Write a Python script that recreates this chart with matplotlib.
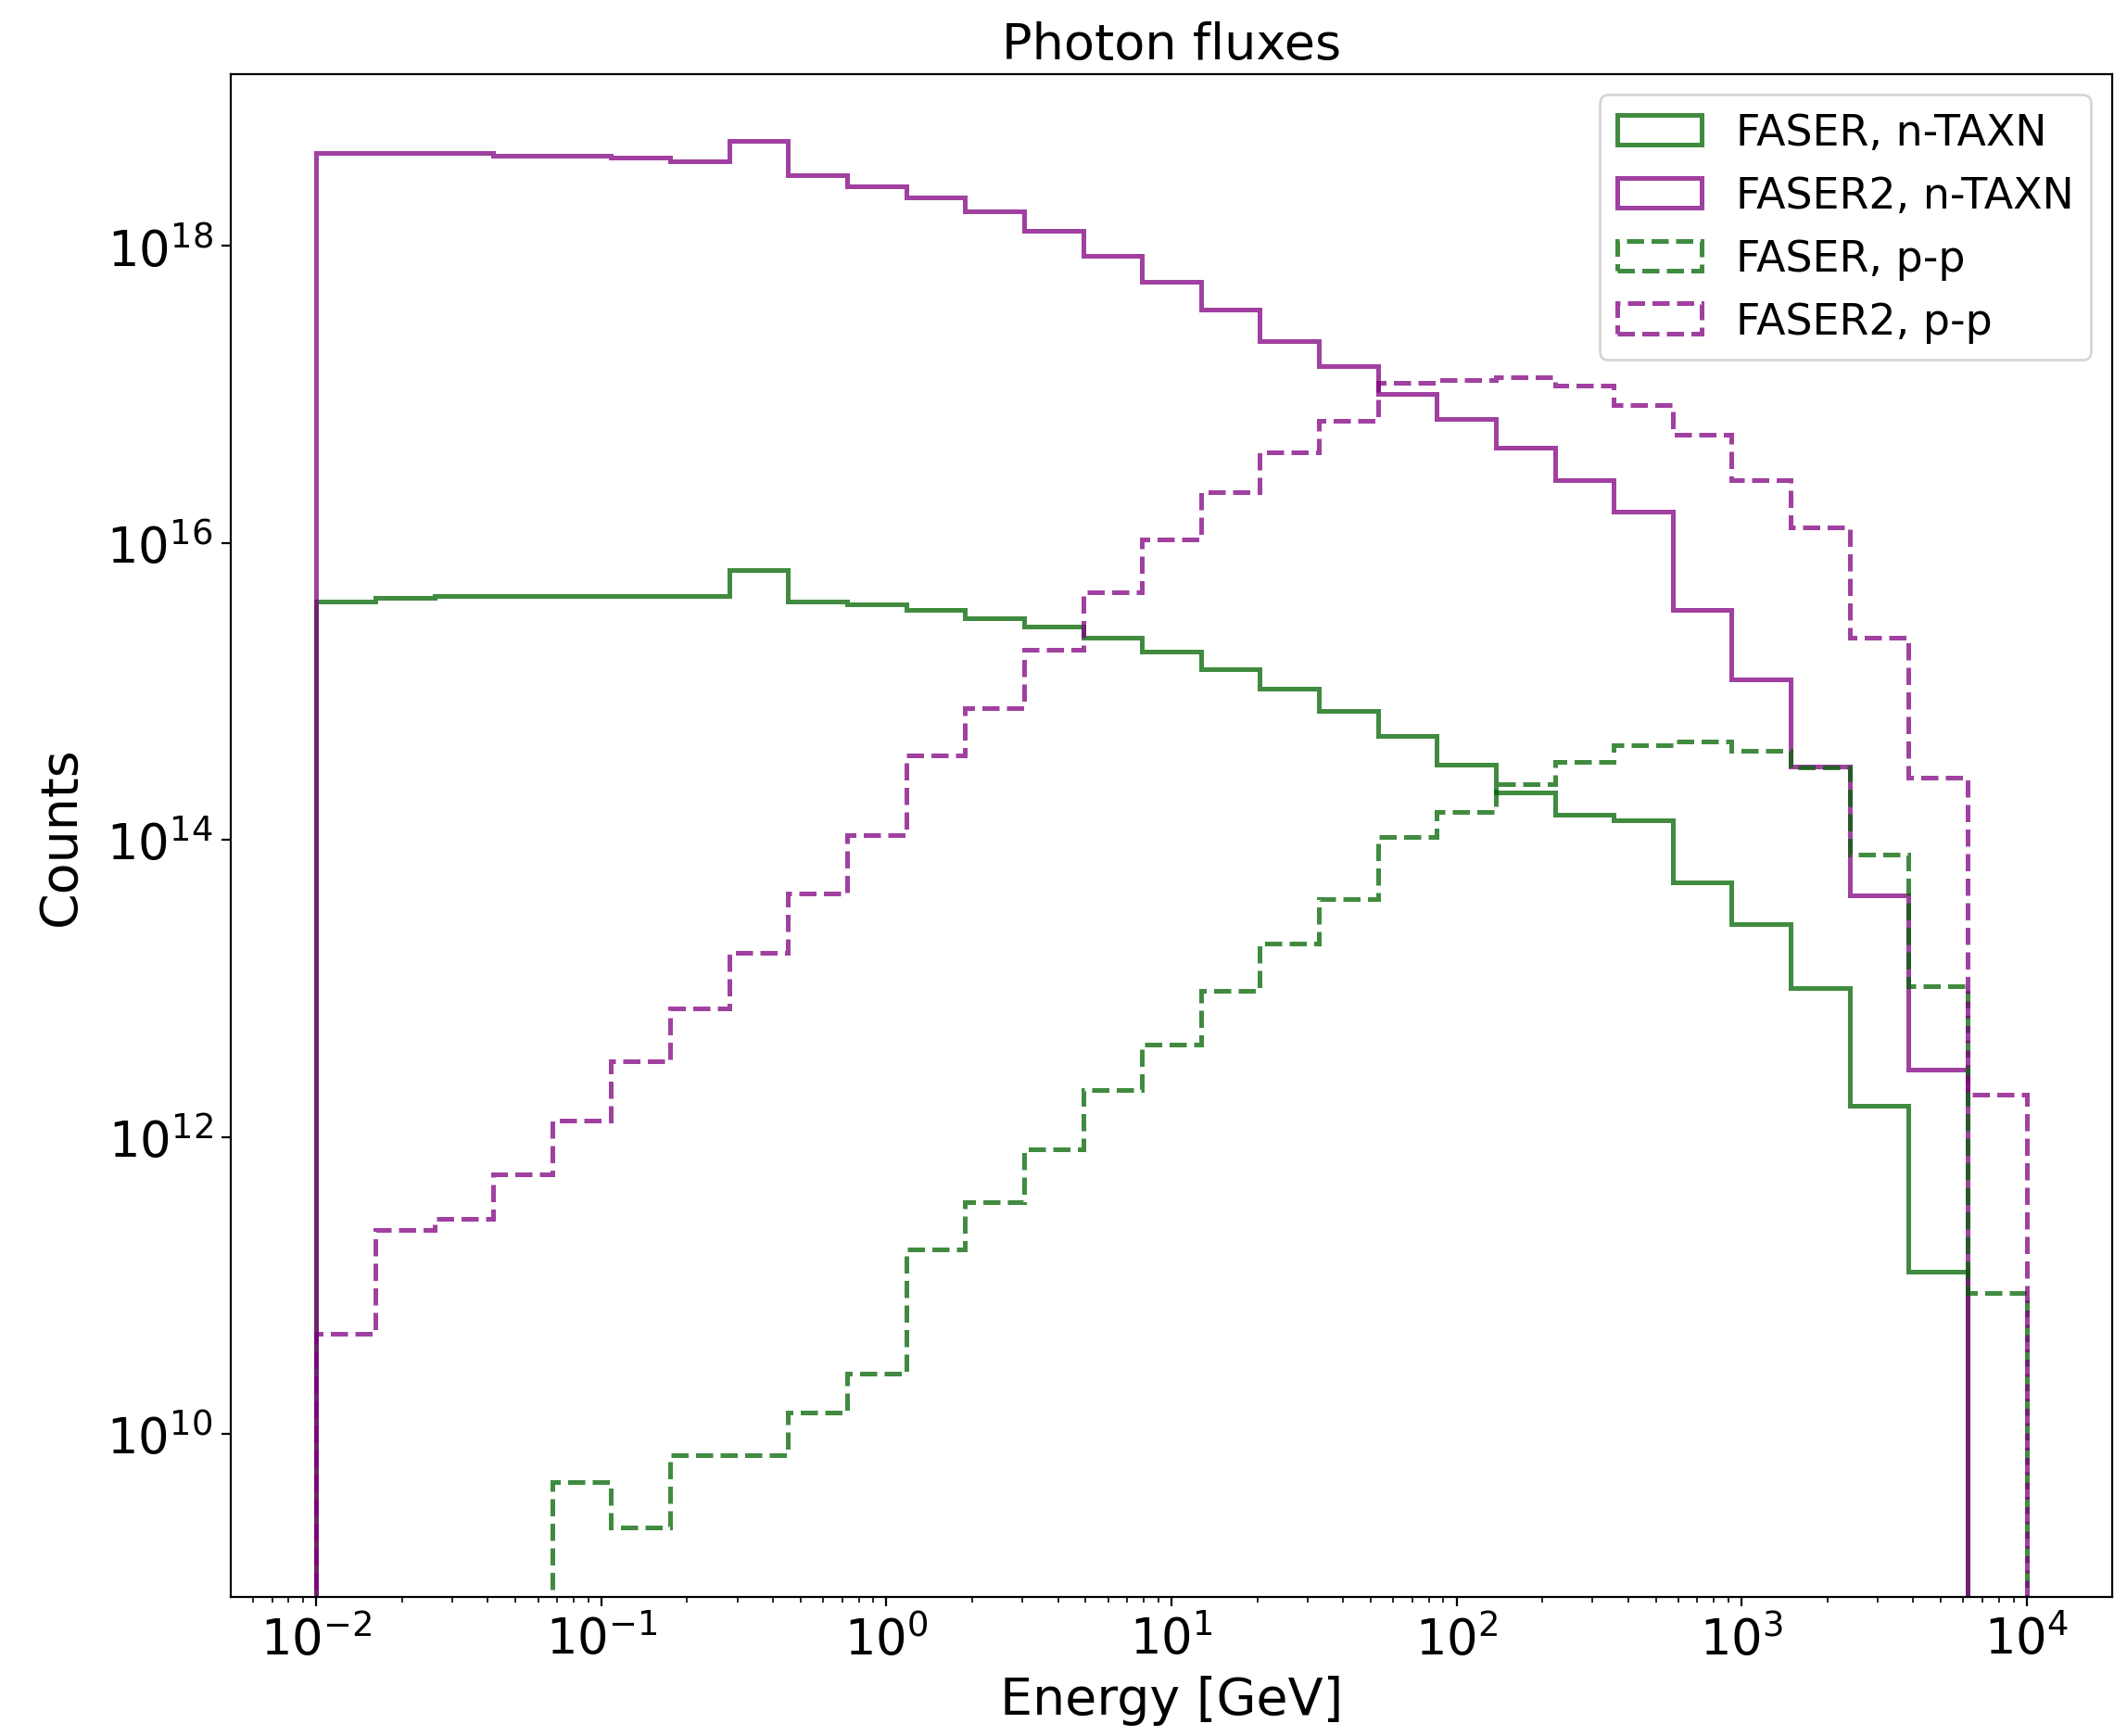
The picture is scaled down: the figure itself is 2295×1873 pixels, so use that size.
import numpy as np
import matplotlib
matplotlib.use('Agg')
import matplotlib.pyplot as plt
from matplotlib.ticker import NullLocator

# 29 log-spaced energy bins, 1e-2 .. 1e4 GeV
edges = np.logspace(-2, 4, 30)

labels = ['FASER, n-TAXN', 'FASER2, n-TAXN', 'FASER, p-p', 'FASER2, p-p']

faser_taxn = [4.05e15, 4.24e15, 4.42e15, 4.42e15, 4.42e15, 4.42e15, 4.42e15, 6.53e15,
              4.05e15, 3.86e15, 3.55e15, 3.11e15, 2.74e15, 2.29e15, 1.85e15, 1.41e15,
              1.05e15, 7.41e14, 4.98e14, 3.22e14, 2.08e14, 1.47e14, 1.36e14, 5.18e13,
              2.69e13, 1.00e13, 1.62e12, 1.23e11, 0]
faser2_taxn = [4.25e18, 4.25e18, 4.25e18, 4.07e18, 4.07e18, 3.93e18, 3.73e18, 5.07e18,
               2.99e18, 2.51e18, 2.11e18, 1.72e18, 1.26e18, 8.53e17, 5.78e17, 3.72e17,
               2.30e17, 1.56e17, 1.01e17, 6.84e16, 4.41e16, 2.63e16, 1.63e16, 3.54e15,
               1.20e15, 3.12e14, 4.22e13, 2.82e12, 0]
faser_pp = [0, 0, 0, 0, 4.70e9, 2.34e9, 7.18e9, 7.18e9,
            1.38e10, 2.55e10, 1.74e11, 3.63e11, 8.26e11, 2.07e12, 4.16e12, 9.57e12,
            2.00e13, 4.01e13, 1.05e14, 1.54e14, 2.38e14, 3.37e14, 4.37e14, 4.59e14,
            3.98e14, 3.08e14, 8.00e13, 1.04e13, 8.91e10]
faser2_pp = [4.73e10, 2.36e11, 2.80e11, 5.62e11, 1.29e12, 3.21e12, 7.31e12, 1.74e13,
             4.36e13, 1.08e14, 3.72e14, 7.74e14, 1.91e15, 4.63e15, 1.05e16, 2.21e16,
             4.08e16, 6.61e16, 1.20e17, 1.26e17, 1.30e17, 1.15e17, 8.49e16, 5.32e16,
             2.63e16, 1.27e16, 2.29e15, 2.61e14, 1.91e12]

series = [faser_taxn, faser2_taxn, faser_pp, faser2_pp]
colors = ['darkgreen', 'purple', 'darkgreen', 'purple']
styles = ['solid', 'solid', 'dashed', 'dashed']

centers = np.sqrt(edges[:-1] * edges[1:])

fig = plt.figure(figsize=(11.475, 9.37), dpi=200)
ax = fig.add_axes([0.1085, 0.080, 0.8845, 0.877])

for vals, c, ls, lab in zip(series, colors, styles, labels):
    ax.hist(centers, bins=edges, weights=vals, histtype='step', log=True,
            color=c, alpha=0.75, linestyle=ls, linewidth=1.8, label=lab)

ax.set_xscale('log')
ax.set_xlim(10**-2.3, 10**4.3)
ax.set_ylim(10**8.9, 10**19.16)
ax.set_yticks([1e10, 1e12, 1e14, 1e16, 1e18])
ax.yaxis.set_minor_locator(NullLocator())

ax.tick_params(labelsize=19)
ax.set_xlabel('Energy [GeV]', fontsize=20)
ax.set_ylabel('Counts', fontsize=20, labelpad=8)
ax.set_title('Photon fluxes', fontsize=19.5)
ax.legend(loc='upper right', fontsize=16.5)

fig.savefig('out.png', dpi=200)
